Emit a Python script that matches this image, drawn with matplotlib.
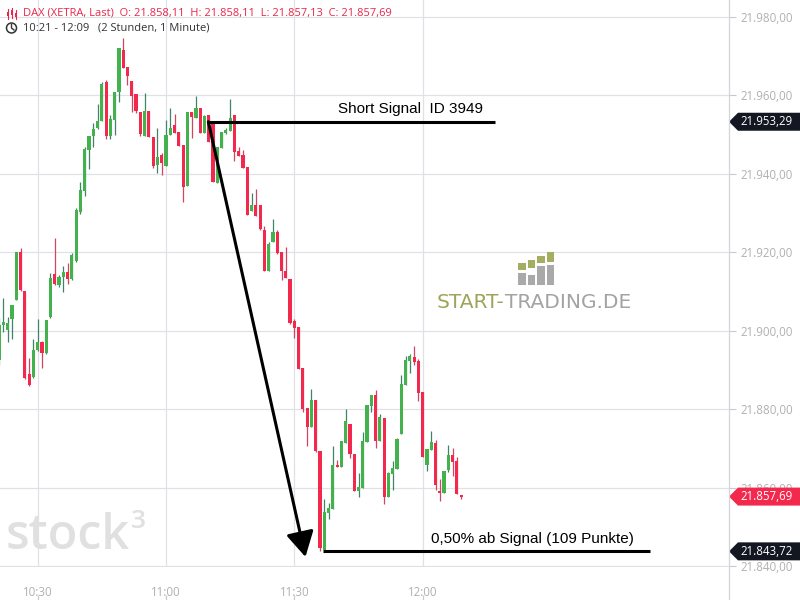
import matplotlib
matplotlib.use("Agg")
import matplotlib.pyplot as plt
import matplotlib.patches as mpatches
import matplotlib.transforms as mtransforms
import numpy as np

plt.rcParams['font.family'] = ['Open Sans', 'DejaVu Sans']

# DAX 1-minute candles, 10:21 - 12:09
opens = [21892.5, 21901.5, 21900.2, 21903.0, 21907.8, 21920.1, 21910.1, 21889.0, 21888.2, 21895.1,
         21897.1, 21894.3, 21903.5, 21914.5, 21911.7, 21913.7, 21915.0, 21913.2, 21917.8, 21930.3,
         21935.6, 21946.1, 21949.7, 21951.7, 21953.5, 21963.4, 21949.7, 21953.7, 21960.9, 21971.6,
         21967.3, 21963.7, 21960.4, 21955.8, 21949.7, 21956.0, 21949.4, 21942.3, 21944.8, 21942.0,
         21949.9, 21952.5, 21950.7, 21947.4, 21936.9, 21955.8, 21954.3, 21956.8, 21950.4, 21955.0,
         21953.5, 21937.7, 21946.6, 21950.4, 21950.9, 21955.0, 21945.8, 21944.8, 21941.8, 21930.5,
         21932.1, 21932.1, 21925.7, 21915.2, 21922.6, 21925.2, 21920.1, 21915.2, 21913.2, 21902.5,
         21901.0, 21890.5, 21880.3, 21875.5, 21882.3, 21869.3, 21844.1, 21853.5, 21854.5, 21865.8,
         21865.3, 21871.4, 21876.2, 21868.6, 21859.1, 21859.9, 21871.6, 21880.8, 21883.6, 21871.9,
         21877.8, 21857.6, 21863.5, 21864.7, 21873.7, 21886.2, 21892.3, 21893.3, 21892.3, 21884.4,
         21865.8, 21869.6, 21871.4, 21859.1, 21858.6, 21864.5, 21868.3, 21866.8, 21858.11]
highs = [21903.3, 21908.4, 21903.5, 21906.6, 21920.1, 21921.1, 21910.1, 21893.1, 21897.9, 21903.0,
         21897.4, 21902.7, 21914.7, 21923.7, 21914.2, 21916.5, 21917.3, 21919.8, 21931.3, 21937.9,
         21946.9, 21949.7, 21953.0, 21957.8, 21963.4, 21963.9, 21955.0, 21960.9, 21972.1, 21974.7,
         21967.3, 21963.7, 21960.4, 21955.8, 21960.6, 21956.0, 21949.4, 21951.7, 21945.3, 21953.7,
         21956.8, 21955.3, 21950.7, 21947.4, 21955.8, 21955.8, 21959.9, 21956.8, 21955.0, 21955.0,
         21953.5, 21946.9, 21950.7, 21951.7, 21959.1, 21955.0, 21946.9, 21946.1, 21941.8, 21935.1,
         21936.1, 21932.1, 21926.7, 21922.6, 21928.5, 21925.7, 21920.1, 21921.4, 21913.2, 21903.0,
         21901.0, 21890.5, 21880.3, 21885.1, 21882.3, 21869.3, 21857.1, 21856.1, 21870.6, 21867.0,
         21871.9, 21880.0, 21876.2, 21868.6, 21863.7, 21874.2, 21881.1, 21883.6, 21884.9, 21878.8,
         21877.8, 21864.0, 21866.8, 21872.7, 21888.7, 21893.6, 21894.1, 21896.1, 21892.8, 21884.4,
         21869.8, 21874.4, 21872.1, 21862.2, 21864.2, 21870.9, 21870.1, 21867.8, 21858.11]
lows = [21891.3, 21899.7, 21897.1, 21897.9, 21907.8, 21910.1, 21887.7, 21885.9, 21887.9, 21894.8,
        21890.5, 21894.1, 21903.3, 21911.7, 21911.2, 21909.9, 21911.9, 21912.9, 21917.5, 21929.8,
        21934.4, 21941.2, 21946.9, 21951.4, 21953.5, 21948.9, 21948.9, 21949.9, 21958.3, 21967.0,
        21962.7, 21955.8, 21955.5, 21949.7, 21949.7, 21949.4, 21941.5, 21940.2, 21939.7, 21942.0,
        21949.9, 21950.4, 21947.1, 21932.8, 21936.9, 21949.2, 21954.3, 21950.4, 21950.4, 21948.1,
        21937.9, 21937.7, 21946.6, 21950.2, 21950.9, 21943.3, 21944.6, 21941.5, 21929.5, 21930.5,
        21929.3, 21925.7, 21915.2, 21915.2, 21922.6, 21919.6, 21912.9, 21913.5, 21901.7, 21898.2,
        21890.2, 21879.3, 21870.6, 21875.5, 21869.1, 21843.72, 21844.0, 21852.0, 21854.5, 21865.3,
        21865.3, 21871.4, 21867.5, 21859.1, 21857.6, 21859.9, 21871.6, 21879.3, 21870.1, 21871.9,
        21855.8, 21857.6, 21859.4, 21864.7, 21873.7, 21886.2, 21889.2, 21891.3, 21882.1, 21867.8,
        21864.2, 21869.6, 21859.4, 21856.6, 21858.6, 21864.0, 21863.0, 21858.4, 21857.13]
closes = [21901.5, 21902.2, 21902.0, 21906.6, 21920.1, 21910.4, 21887.9, 21886.2, 21895.1, 21897.1,
          21894.3, 21902.7, 21913.5, 21911.9, 21913.7, 21915.0, 21913.2, 21919.3, 21930.8, 21935.9,
          21946.3, 21949.7, 21951.4, 21953.5, 21962.9, 21949.7, 21954.0, 21960.9, 21972.1, 21967.0,
          21965.0, 21959.9, 21956.0, 21950.2, 21956.0, 21949.4, 21942.0, 21944.3, 21942.8, 21949.9,
          21951.7, 21950.4, 21947.1, 21936.7, 21955.8, 21954.5, 21956.8, 21950.4, 21954.8, 21948.1,
          21937.9, 21946.9, 21950.7, 21951.2, 21954.3, 21945.6, 21944.6, 21941.5, 21929.5, 21932.1,
          21929.3, 21925.9, 21915.2, 21922.1, 21925.2, 21919.8, 21915.2, 21913.5, 21902.0, 21900.7,
          21890.2, 21880.0, 21875.5, 21882.3, 21869.3, 21844.5, 21853.8, 21854.8, 21865.8, 21865.3,
          21871.9, 21877.0, 21868.6, 21859.1, 21860.2, 21871.9, 21881.1, 21883.6, 21871.9, 21878.0,
          21857.6, 21863.7, 21865.0, 21872.4, 21886.4, 21892.5, 21893.6, 21892.0, 21884.1, 21867.8,
          21869.8, 21871.6, 21860.7, 21858.6, 21864.2, 21868.3, 21866.5, 21858.4, 21857.69]

time_ticks = [9, 39, 69, 99]          # minutes after 10:21
time_labels = ["10:30", "11:00", "11:30", "12:00"]
price_ticks = [21840, 21860, 21880, 21900, 21920, 21940, 21960, 21980]

signal_price = 21953.29
target_price = 21843.72
signal_start, signal_end = 48.7, 116.0
target_start, target_end = 75.8, 152.2
arrow_tip = (71.6, 21842.3)

GREEN = "#43b14c"
RED = "#f2294d"
GREEN_WICK = "#3f8466"
RED_WICK = "#d24560"
GRID = "#e0e0e8"


def de_num(v):
    s = f"{v:,.2f}"
    return s.replace(",", "X").replace(".", ",").replace("X", ".")


fig = plt.figure(figsize=(8, 6), dpi=100)
ax = fig.add_axes([0, 33 / 600, 729 / 800, 567 / 600])
ax.set_xlim(0.2, 170.6)
ax.set_ylim(21839.73, 21984.34)

o = np.array(opens)
h = np.array(highs)
l = np.array(lows)
c = np.array(closes)
x = np.arange(len(o))
up = c >= o
bottom = np.minimum(o, c)
height = np.maximum(np.abs(c - o), 0.4)

ax.vlines(x[up], l[up], h[up], color=GREEN_WICK, lw=0.9, zorder=2)
ax.vlines(x[~up], l[~up], h[~up], color=RED_WICK, lw=0.9, zorder=2)
ax.bar(x[up], height[up], bottom=bottom[up], width=0.74, color=GREEN, lw=0, zorder=3)
ax.bar(x[~up], height[~up], bottom=bottom[~up], width=0.74, color=RED, lw=0, zorder=3)

# grid and axes
ax.set_yticks(price_ticks)
ax.set_yticklabels([de_num(p) for p in price_ticks])
ax.set_xticks(time_ticks)
ax.set_xticklabels(time_labels)
ax.grid(True, color=GRID, lw=0.9, zorder=0)
ax.set_axisbelow(True)
for s in ["top", "left", "right", "bottom"]:
    ax.spines[s].set_visible(False)
ax.yaxis.tick_right()
ax.tick_params(axis="y", length=5, width=0.8, color="#c8c8d0", labelcolor="#b0b0b0",
               labelsize=8.3, pad=3.5)
ax.tick_params(axis="x", length=0, labelcolor="#b0b0b0", labelsize=8.3, pad=14)
fig.add_artist(plt.Line2D([729 / 800, 729 / 800], [0, 1], color="#d4d4dc", lw=0.9))
blend_x = mtransforms.blended_transform_factory(ax.transData, ax.transAxes)
ax.vlines(time_ticks, -0.058, -0.050, color="#c8c8d0", lw=0.9, transform=blend_x, clip_on=False)

# signal lines and arrow
ax.plot([signal_start, signal_end], [signal_price] * 2, color="black", lw=2.2,
        solid_capstyle="butt", zorder=5)
ax.plot([target_start, target_end], [target_price] * 2, color="black", lw=2.2,
        solid_capstyle="butt", zorder=5)
ax.annotate("", xy=arrow_tip, xytext=(signal_start + 0.2, signal_price),
            arrowprops=dict(arrowstyle="-|>,head_length=0.9,head_width=0.5", lw=2.2,
                            color="black", shrinkA=0, shrinkB=0, mutation_scale=17),
            zorder=5)
ax.text(79.1, 21956.5, "Short Signal  ID 3949", fontsize=11, family="Liberation Sans",
        va="center", ha="left", color="black", zorder=6)
ax.text(101.0, 21846.9, "0,50% ab Signal (109 Punkte)", fontsize=11, family="Liberation Sans",
        va="center", ha="left", color="black", zorder=6)

# price tags on the right axis
blend_y = mtransforms.blended_transform_factory(ax.transAxes, ax.transData)
half = 9 / 3.921
for price, col in [(signal_price, "#131722"), (closes[-1], RED), (target_price, "#131722")]:
    pts = [(1.0, price), (1 + 9 / 729, price + half), (800 / 729, price + half),
           (800 / 729, price - half), (1 + 9 / 729, price - half)]
    ax.add_patch(mpatches.Polygon(pts, closed=True, transform=blend_y, clip_on=False,
                                  facecolor=col, edgecolor="none", zorder=8))
    ax.text(767 / 729, price, de_num(price), transform=blend_y, color="white", fontsize=8.3,
            ha="center", va="center", clip_on=False, zorder=9)

# header
px = lambda xx, yy: (xx / 800, 1 - yy / 600)
hdr = "DAX (XETRA, Last)  O: %s  H: %s  L: %s  C: %s" % (
    de_num(opens[-1]), de_num(highs[-1]), de_num(lows[-1]), de_num(closes[-1]))
fig.text(*px(23, 13), hdr, color="#e8274a", fontsize=8, va="center", ha="left")
fig.text(*px(23, 28), "10:21 - 12:09   (2 Stunden, 1 Minute)", color="#333333", fontsize=8,
         va="center", ha="left")
for cx, top, bot, bt, bb in [(8, 9, 19, 12, 16), (12, 8, 18, 10, 15), (16, 10, 19, 13, 17)]:
    fig.add_artist(plt.Line2D([cx / 800] * 2, [1 - top / 600, 1 - bot / 600], color="#e8274a", lw=0.8))
    fig.add_artist(mpatches.Rectangle((cx / 800 - 1.2 / 800, 1 - bb / 600), 2.4 / 800, (bb - bt) / 600,
                                      facecolor="#e8274a", edgecolor="none"))
fig.add_artist(mpatches.Ellipse(px(11.5, 28), 10 / 800, 10 / 600, facecolor="none",
                                edgecolor="#333333", lw=1.1))
fig.add_artist(plt.Line2D([11.5 / 800, 11.5 / 800, 14 / 800],
                          [1 - 24.5 / 600, 1 - 28 / 600, 1 - 30 / 600], color="#333333", lw=1.0))

# watermarks
fig.text(*px(437, 303), "START-", color="#9ea45c", fontsize=14.5, family="DejaVu Sans",
         va="center", ha="left")
fig.text(*px(505, 303), "TRADING.DE", color="#a3a3a3", fontsize=14.5, family="DejaVu Sans",
         va="center", ha="left")
for x0, x1, gt, gb, gr in [(518, 526, 263, 270, 273), (528, 535, 260, 268, 275),
                           (537, 545, 256, 263, 266), (547, 554, 252, 262, 265)]:
    fig.add_artist(mpatches.Rectangle((x0 / 800, 1 - gb / 600), (x1 - x0) / 800, (gb - gt) / 600,
                                      facecolor="#a4ad62", edgecolor="none"))
    fig.add_artist(mpatches.Rectangle((x0 / 800, 1 - 285 / 600), (x1 - x0) / 800, (285 - gr) / 600,
                                      facecolor="#a9a9a9", edgecolor="none"))
fig.text(*px(6, 549), "stock", color="#e0e0e0", fontsize=35, fontweight="semibold",
         va="baseline", ha="left")
fig.text(*px(131, 528), "3", color="#e0e0e0", fontsize=19, fontweight="semibold",
         va="baseline", ha="left")

fig.savefig("out.png", dpi=100)
